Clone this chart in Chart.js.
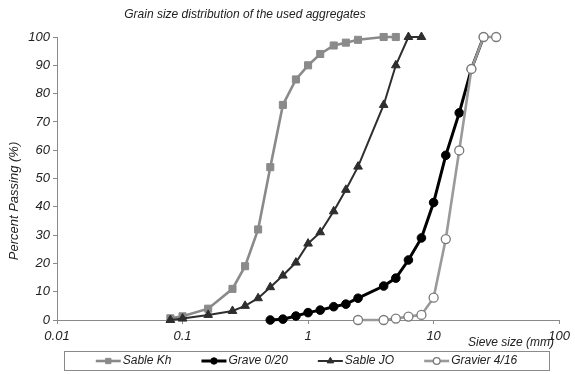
<!DOCTYPE html>
<html><head><meta charset="utf-8">
<script src="https://cdn.jsdelivr.net/npm/chart.js@4.4.1/dist/chart.umd.min.js"></script>
<style>html,body{margin:0;padding:0;background:#fff}#wrap{width:575px;height:374px;position:relative}</style>
</head><body><div id="wrap"><canvas id="c" width="575" height="374"></canvas></div>
<script>
// ---- data ----
const chartTitle = "Grain size distribution of the used aggregates";
const xAxisTitle = "Sieve size (mm)";
const yAxisTitle = "Percent Passing (%)";
const xTickValues = [0.01, 0.1, 1, 10, 100];
const xTickLabels = ["0,01", "0,1", "1", "10", "100"];
const yTickValues = [0, 10, 20, 30, 40, 50, 60, 70, 80, 90, 100];
const seriesNames = ["Sable Kh", "Grave 0/20", "Sable JO", "Gravier 4/16"];

const sableKhSizes   = [0.08, 0.1, 0.16, 0.25, 0.315, 0.4, 0.5, 0.63, 0.8, 1, 1.25, 1.6, 2, 2.5, 4, 5];
const sableKhPassing = [0.6, 1.3, 4, 11, 19, 32, 54, 76, 85, 90, 94, 97, 98, 99, 100, 100];

const graveSizes   = [0.5, 0.63, 0.8, 1, 1.25, 1.6, 2, 2.5, 4, 5, 6.3, 8, 10, 12.5, 16, 20, 25];
const gravePassing = [0, 0.3, 1.4, 2.6, 3.5, 4.7, 5.6, 7.7, 12, 14.8, 21.2, 29, 41.5, 58.2, 73.2, 88.7, 100];

const sableJoSizes   = [0.08, 0.1, 0.16, 0.25, 0.315, 0.4, 0.5, 0.63, 0.8, 1, 1.25, 1.6, 2, 2.5, 4, 5, 6.3, 8];
const sableJoPassing = [0, 0.5, 1.8, 3.2, 5, 7.7, 11.6, 15.7, 20.3, 27, 31, 38.4, 46, 54.2, 76, 90, 100, 100];

const gravierSizes   = [2.5, 4, 5, 6.3, 8, 10, 12.5, 16, 20, 25, 31.5];
const gravierPassing = [0, 0, 0.5, 1.2, 1.8, 7.9, 28.6, 59.9, 88.7, 100, 100];

// ---- styles ----
const FONT = "'Liberation Sans', Arial, sans-serif";
const styles = [
  {pointStyle: 'rect',     line: '#8a8a8a', fill: '#8a8a8a', border: '#8a8a8a', lw: 2.6, r: 5,   bw: 1},
  {pointStyle: 'circle',   line: '#000000', fill: '#000000', border: '#000000', lw: 3,   r: 4.3, bw: 1},
  {pointStyle: 'triangle', line: '#2e2e2e', fill: '#2e2e2e', border: '#2e2e2e', lw: 2,   r: 5,   bw: 1},
  {pointStyle: 'circle',   line: '#9a9a9a', fill: '#ffffff', border: '#7a7a7a', lw: 2.6, r: 4.5, bw: 1.3}
];
const xsList = [sableKhSizes, graveSizes, sableJoSizes, gravierSizes];
const ysList = [sableKhPassing, gravePassing, sableJoPassing, gravierPassing];
const drawOrder = [4, 3, 2, 1];

const datasets = seriesNames.map((name, i) => ({
  label: name,
  data: xsList[i].map((x, k) => ({x: x, y: ysList[i][k]})),
  showLine: true,
  clip: false,
  borderColor: styles[i].line,
  borderWidth: styles[i].lw,
  backgroundColor: styles[i].fill,
  pointStyle: styles[i].pointStyle,
  pointRadius: styles[i].r,
  pointBackgroundColor: styles[i].fill,
  pointBorderColor: styles[i].border,
  pointBorderWidth: styles[i].bw,
  tension: 0,
  order: drawOrder[i]
}));

const textPlugin = {
  id: 'texts',
  afterDraw(chart) {
    const ctx = chart.ctx;
    ctx.save();
    ctx.fillStyle = '#222';
    // title
    ctx.font = "italic 12px " + FONT;
    ctx.textAlign = 'center';
    ctx.textBaseline = 'middle';
    ctx.fillText(chartTitle, 245, 15);
    // y title
    ctx.save();
    ctx.translate(14, 201);
    ctx.rotate(-Math.PI / 2);
    ctx.font = "italic 13px " + FONT;
    ctx.fillText(yAxisTitle, 0, 0);
    ctx.restore();
    // x title
    ctx.font = "italic 12px " + FONT;
    ctx.textAlign = 'left';
    ctx.fillText(xAxisTitle, 468, 343);
    // legend box
    const bx = 64, by = 351, bw = 485, bh = 19;
    ctx.strokeStyle = '#8a8a8a';
    ctx.lineWidth = 1;
    ctx.strokeRect(bx + 0.5, by + 0.5, bw, bh);
    ctx.font = "italic 12px " + FONT;
    const lineLen = 25, gapText = 2, gapItem = 30;
    const widths = seriesNames.map(n => ctx.measureText(n).width);
    const total = widths.reduce((a, b) => a + b, 0) + seriesNames.length * (lineLen + gapText) + (seriesNames.length - 1) * gapItem;
    let x = bx + (bw - total) / 2;
    const cy = by + bh / 2 + 0.5;
    seriesNames.forEach((n, i) => {
      const s = styles[i];
      ctx.strokeStyle = s.line;
      ctx.lineWidth = s.lw;
      ctx.beginPath();
      ctx.moveTo(x, cy);
      ctx.lineTo(x + lineLen, cy);
      ctx.stroke();
      ctx.fillStyle = s.fill;
      ctx.strokeStyle = s.border;
      ctx.lineWidth = s.bw;
      Chart.helpers.drawPoint(ctx, {pointStyle: s.pointStyle, radius: s.r * 0.75, borderWidth: s.bw, rotation: 0}, x + lineLen / 2, cy);
      ctx.fillStyle = '#222';
      ctx.textAlign = 'left';
      ctx.textBaseline = 'middle';
      ctx.fillText(n, x + lineLen + gapText, cy);
      x += lineLen + gapText + widths[i] + gapItem;
    });
    ctx.restore();
  }
};

function xLabelFor(v, i) {
  let k = -1;
  xTickValues.forEach((t, j) => { if (Math.abs(Math.log10(t) - Math.log10(v)) < 1e-6) k = j; });
  if (k < 0 && i >= 0 && i < xTickLabels.length) k = i;
  return k >= 0 ? xTickLabels[k] : '';
}

new Chart(document.getElementById('c'), {
  type: 'scatter',
  data: {datasets: datasets},
  options: {
    responsive: false,
    devicePixelRatio: 1,
    animation: false,
    layout: {padding: {left: 0, top: 37, right: 12, bottom: 34}},
    plugins: {legend: {display: false}, title: {display: false}, tooltip: {enabled: false}},
    scales: {
      x: {
        type: 'logarithmic',
        min: 0.01, max: 100,
        afterBuildTicks: (s) => { s.ticks = xTickValues.map(v => ({value: v})); },
        afterTickToLabelConversion: (s) => { s.ticks.forEach((t, i) => { t.label = xLabelFor(t.value, i); }); },
        afterFit: (s) => { s.height = 20; },
        ticks: {
          autoSkip: false, maxRotation: 0, padding: 5,
          color: '#222',
          font: {family: FONT, size: 13, style: 'italic'},
          callback: (v, i) => xLabelFor(v, i)
        },
        grid: {drawOnChartArea: false, drawTicks: true, tickLength: 4, color: '#8a8a8a'},
        border: {display: true, color: '#8a8a8a', width: 1}
      },
      y: {
        type: 'linear',
        min: 0, max: 100,
        afterBuildTicks: (s) => { s.ticks = yTickValues.map(v => ({value: v})); },
        afterFit: (s) => { s.width = 57; },
        ticks: {
          padding: 3, color: '#222',
          font: {family: FONT, size: 13, style: 'italic'}
        },
        grid: {drawOnChartArea: false, drawTicks: true, tickLength: 4, color: '#8a8a8a'},
        border: {display: true, color: '#8a8a8a', width: 1}
      }
    }
  },
  plugins: [textPlugin]
});
</script>
</body></html>
